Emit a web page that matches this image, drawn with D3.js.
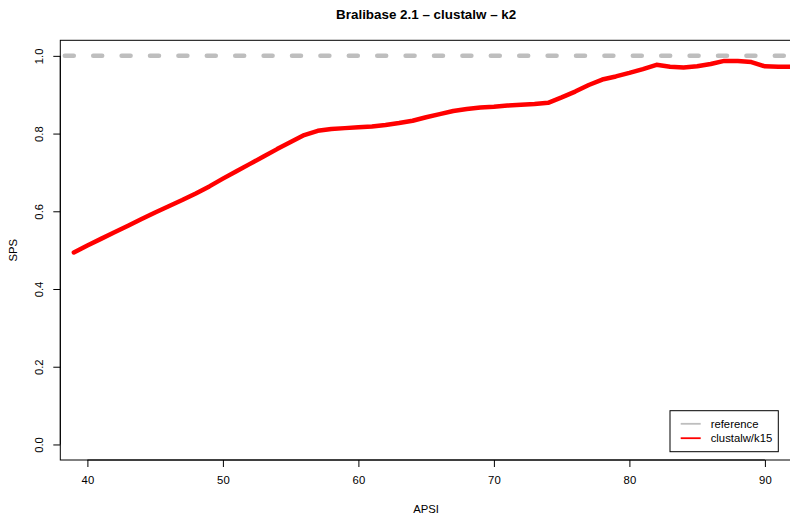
<!DOCTYPE html>
<html>
<head>
<meta charset="utf-8">
<script src="https://cdn.jsdelivr.net/npm/d3@7"></script>
<style>
  body { margin: 0; background: #fff; }
  svg { display: block; font-family: "Liberation Sans", Arial, Helvetica, sans-serif; }
</style>
</head>
<body>
<figure id="chart" style="margin:0"></figure>
<script>
// values
const apsi = [39, 40, 41, 42, 43, 44, 45, 46, 47, 48, 49, 50, 51, 52, 53, 54, 55, 56, 57, 58,
  59, 60, 61, 62, 63, 64, 65, 66, 67, 68, 69, 70, 71, 72, 73, 74, 75, 76, 77, 78,
  79, 80, 81, 82, 83, 84, 85, 86, 87, 88, 89, 90, 91, 92];
const sps = [0.494, 0.512, 0.529, 0.546, 0.563, 0.580, 0.597, 0.613, 0.629, 0.646,
  0.664, 0.684, 0.703, 0.722, 0.741, 0.760, 0.778, 0.796, 0.807, 0.812,
  0.814, 0.816, 0.818, 0.822, 0.827, 0.833, 0.842, 0.850, 0.858, 0.863,
  0.867, 0.869, 0.872, 0.874, 0.876, 0.879, 0.893, 0.908, 0.925, 0.939,
  0.947, 0.956, 0.966, 0.977, 0.972, 0.970, 0.973, 0.979, 0.987, 0.987,
  0.984, 0.973, 0.972, 0.972];
const referenceValue = 1.0;
const xTicks = [40, 50, 60, 70, 80, 90];
const yTicks = [0, 0.2, 0.4, 0.6, 0.8, 1.0];
const yTickLabels = ["0.0", "0.2", "0.4", "0.6", "0.8", "1.0"];
const legendLabels = ["reference", "clustalw/k15"];
const legendColors = ["#BEBEBE", "#FF0000"];

const width = 790;
const height = 515;
const plot = { left: 60.3, right: 792, top: 40.3, bottom: 460 };
const fontSize = 11.3;

const svg = d3.select("#chart")
  .append("svg")
  .attr("width", width)
  .attr("height", height);

const x = d3.scaleLinear().domain([38, 92]).range([plot.left, plot.right]);
const y = d3.scaleLinear().domain([-0.04, 1.04]).range([plot.bottom, plot.top]);

svg.append("clipPath").attr("id", "plotclip")
  .append("rect")
  .attr("x", plot.left).attr("y", plot.top)
  .attr("width", plot.right - plot.left).attr("height", plot.bottom - plot.top);

// reference line (dashed grey)
svg.append("line")
  .attr("clip-path", "url(#plotclip)")
  .attr("x1", x(x.domain()[0])).attr("x2", x(x.domain()[1]))
  .attr("y1", y(referenceValue)).attr("y2", y(referenceValue))
  .attr("stroke", legendColors[0])
  .attr("stroke-width", 4.5)
  .attr("stroke-linecap", "round")
  .attr("stroke-dasharray", "9,19.4")
  .attr("stroke-dashoffset", -4.5);

// clustalw line
const line = d3.line()
  .x((d, i) => x(apsi[i]))
  .y(d => y(d));

svg.append("path")
  .datum(sps)
  .attr("clip-path", "url(#plotclip)")
  .attr("d", line)
  .attr("fill", "none")
  .attr("stroke", legendColors[1])
  .attr("stroke-width", 4.5)
  .attr("stroke-linejoin", "round")
  .attr("stroke-linecap", "round");

// box
svg.append("rect")
  .attr("x", plot.left).attr("y", plot.top)
  .attr("width", plot.right - plot.left).attr("height", plot.bottom - plot.top)
  .attr("fill", "none")
  .attr("stroke", "#000")
  .attr("stroke-width", 1);

// x axis
const xAxis = svg.append("g")
  .attr("transform", "translate(0," + plot.bottom + ")")
  .call(d3.axisBottom(x).tickValues(xTicks).tickSize(7).tickPadding(9).tickFormat(d3.format("d")));
xAxis.select(".domain")
  .attr("d", "M" + x(xTicks[0]) + ",0H" + x(xTicks[xTicks.length - 1]));
xAxis.selectAll("text")
  .attr("font-size", fontSize)
  .attr("font-family", null)
  .attr("fill", "#000");

// y axis, labels rotated like R
const yAxis = svg.append("g")
  .attr("transform", "translate(" + plot.left + ",0)")
  .call(d3.axisLeft(y).tickValues(yTicks).tickSize(7).tickFormat((d, i) => yTickLabels[i]));
yAxis.select(".domain")
  .attr("d", "M0," + y(yTicks[0]) + "V" + y(yTicks[yTicks.length - 1]));
yAxis.selectAll("text")
  .attr("x", null)
  .attr("dy", "0.35em")
  .attr("text-anchor", "middle")
  .attr("transform", "translate(" + (39.5 - plot.left) + ",0) rotate(-90)")
  .attr("font-size", fontSize)
  .attr("fill", "#000");
svg.selectAll(".tick line").attr("stroke", "#000");
svg.selectAll(".domain").attr("stroke", "#000");

// title and axis labels
const midX = (plot.left + plot.right) / 2;
svg.append("text")
  .attr("x", midX).attr("y", 18.5)
  .attr("text-anchor", "middle")
  .attr("font-size", 13.4)
  .attr("font-weight", "bold")
  .text("Bralibase 2.1 \u2013 clustalw \u2013 k2");

svg.append("text")
  .attr("x", midX).attr("y", 509)
  .attr("dy", "0.35em")
  .attr("text-anchor", "middle")
  .attr("font-size", fontSize)
  .text("APSI");

svg.append("text")
  .attr("transform", "translate(12.7," + ((plot.top + plot.bottom) / 2) + ") rotate(-90)")
  .attr("dy", "0.35em")
  .attr("text-anchor", "middle")
  .attr("font-size", fontSize)
  .text("SPS");

// legend
const legend = svg.append("g");
legend.append("rect")
  .attr("x", 670).attr("y", 410.7)
  .attr("width", 108.3).attr("height", 41)
  .attr("fill", "#fff")
  .attr("stroke", "#000")
  .attr("stroke-width", 1);

legendLabels.forEach((label, i) => {
  const ly = 423.8 + i * 14.4;
  legend.append("line")
    .attr("x1", 680.7).attr("x2", 700.7)
    .attr("y1", ly).attr("y2", ly)
    .attr("stroke", legendColors[i])
    .attr("stroke-width", 1.8);
  legend.append("text")
    .attr("x", 710.7).attr("y", ly)
    .attr("dy", "0.35em")
    .attr("font-size", fontSize)
    .text(label);
});
</script>
</body>
</html>
